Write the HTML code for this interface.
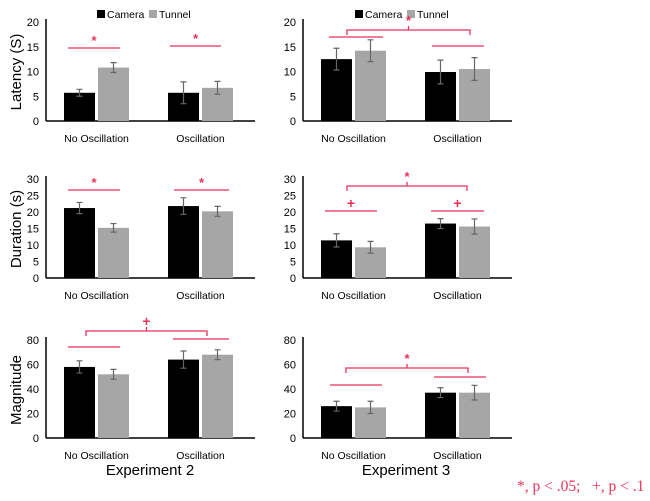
<!DOCTYPE html>
<html><head><meta charset="utf-8"><style>
body{margin:0;background:#fff}
svg text{font-family:"Liberation Sans",sans-serif}
</style></head><body>
<svg id="c" width="650" height="496" xmlns="http://www.w3.org/2000/svg"></svg>
<script>
const categories=["No Oscillation","Oscillation"];
const seriesNames=["Camera","Tunnel"];
const latencyExp2=[5.7,10.8,5.7,6.7];
const latencyErrExp2=[0.7,1.0,2.2,1.3];
const latencyExp3=[12.5,14.2,9.9,10.5];
const latencyErrExp3=[2.2,2.2,2.4,2.3];
const durationExp2=[21.2,15.2,21.8,20.2];
const durationErrExp2=[1.7,1.3,2.5,1.5];
const durationExp3=[11.4,9.3,16.5,15.6];
const durationErrExp3=[2.0,1.8,1.5,2.3];
const magnitudeExp2=[58,52,64,68];
const magnitudeErrExp2=[5,4,7,4];
const magnitudeExp3=[26,25,37,37];
const magnitudeErrExp3=[4,5,4,6];
const latencyTicks=[0,5,10,15,20];
const durationTicks=[0,5,10,15,20,25,30];
const magnitudeTicks=[0,20,40,60,80];

const svg=document.getElementById('c');
const NS='http://www.w3.org/2000/svg';
function mk(tag,attrs,parent){const e=document.createElementNS(NS,tag);for(const k in attrs)e.setAttribute(k,attrs[k]);(parent||svg).appendChild(e);return e;}
function txt(x,y,s,attrs,parent){const t=mk('text',Object.assign({x:x,y:y},attrs),parent);t.textContent=s;return t;}
const RED='#e8325a';

function panel(name,ax,y0,yTop,ticks,vals,errs,sigs){
  const g=mk('g',{});
  
  
  const max=ticks[ticks.length-1];
  const y=v=>y0-(v/max)*(y0-yTop);
  const x0=ax+18, groupW=104, barW=31, gap=3;
  ticks.forEach(t=>{const l=txt(ax-7,y(t)+4,String(t),{'font-size':11,'text-anchor':'end',fill:'#000'},g);
    });
  const axl=mk('line',{x1:ax,y1:yTop-3,x2:ax,y2:y0,stroke:'#000','stroke-width':1.5},g);
  
  const bx=mk('line',{x1:ax,y1:y0,x2:ax+209,y2:y0,stroke:'#000','stroke-width':1.5},g);
  
  categories.forEach((c,ci)=>{
    const cx=x0+ci*groupW;
    const l=txt(cx+barW+gap/2,y0+21,c,{'font-size':10.5,'text-anchor':'middle'},g);
    
    for(let s=0;s<2;s++){
      const i=ci*2+s, bxp=cx+s*(barW+gap);
      const r=mk('rect',{x:bxp,y:y(vals[i]),width:barW,height:y0-y(vals[i]),fill:s?'#a6a6a6':'#000'},g);
      
      
      const m=bxp+barW/2, hi=y(vals[i]+errs[i]), lo=y(vals[i]-errs[i]);
      const eb=mk('path',{d:`M${m},${hi}V${lo}M${m-3},${hi}H${m+3}M${m-3},${lo}H${m+3}`,stroke:'#666','stroke-width':1.2,fill:'none'},g);
      
    }
  });
  sigs.forEach(s=>{
    let p;
    if(s.type==='line'){p=mk('line',{x1:s.x1,y1:s.y,x2:s.x2,y2:s.y,stroke:RED,'stroke-width':1.3},g);}
    else{const m=(s.x1+s.x2)/2;p=mk('path',{d:`M${s.x1},${s.y+5}V${s.y}H${s.x2}V${s.y+5}M${m},${s.y}V${s.y-4}`,stroke:RED,'stroke-width':1.3,fill:'none'},g);}
    
    if(s.mark){const t=txt((s.x1+s.x2)/2,s.y-(s.type==='line'?3:5),s.mark,{'font-size':s.mark==='+'?14:13,'text-anchor':'middle',fill:RED,'font-weight':'bold'},g);
      }
  });
}
function legend(x){
  const g=mk('g',{});
  
  mk('rect',{x:x,y:10,width:8,height:8,fill:'#000'},g);
  txt(x+10,18,'Camera',{'font-size':10.5},g);
  mk('rect',{x:x+52,y:10,width:8,height:8,fill:'#a6a6a6'},g);
  txt(x+62,18,'Tunnel',{'font-size':10.5},g);
}
legend(97);legend(355);
panel('latency-exp2',46,121,22,latencyTicks,latencyExp2,latencyErrExp2,
  [{type:'line',x1:68,x2:120,y:48,mark:'*'},{type:'line',x1:170,x2:221,y:46,mark:'*'}]);
panel('latency-exp3',303,121,22,latencyTicks,latencyExp3,latencyErrExp3,
  [{type:'line',x1:329,x2:383,y:37},{type:'bracket',x1:347,x2:470,y:30,mark:'*'},{type:'line',x1:432,x2:484,y:46}]);
panel('duration-exp2',46,278,179,durationTicks,durationExp2,durationErrExp2,
  [{type:'line',x1:68,x2:120,y:190,mark:'*'},{type:'line',x1:174,x2:229,y:190,mark:'*'}]);
panel('duration-exp3',303,278,179,durationTicks,durationExp3,durationErrExp3,
  [{type:'line',x1:325,x2:377,y:211,mark:'+'},{type:'bracket',x1:347,x2:467,y:186,mark:'*'},{type:'line',x1:431,x2:484,y:211,mark:'+'}]);
panel('magnitude-exp2',46,438,340,magnitudeTicks,magnitudeExp2,magnitudeErrExp2,
  [{type:'line',x1:68,x2:120,y:347},{type:'bracket',x1:86,x2:207,y:331,mark:'+'},{type:'line',x1:173,x2:229,y:339}]);
panel('magnitude-exp3',303,438,340,magnitudeTicks,magnitudeExp3,magnitudeErrExp3,
  [{type:'line',x1:330,x2:382,y:385},{type:'bracket',x1:346,x2:468,y:368,mark:'*'},{type:'line',x1:434,x2:486,y:377}]);
[['Latency (S)',72],['Duration (s)',229],['Magnitude',390]].forEach(([s,cy])=>{
  const t=txt(0,0,s,{'font-size':15,'text-anchor':'middle',transform:`translate(21,${cy}) rotate(-90)`});
  
});
[['Experiment 2',150],['Experiment 3',406]].forEach(([s,cx])=>{
  const t=txt(cx,475,s,{'font-size':15,'text-anchor':'middle'});
  
});
const fn=txt(517,491,'*, p < .05;   +, p < .1',{'font-size':15.5,fill:RED});
fn.setAttribute('style','font-family:"Liberation Serif",serif;white-space:pre');


</script>
</body></html>
